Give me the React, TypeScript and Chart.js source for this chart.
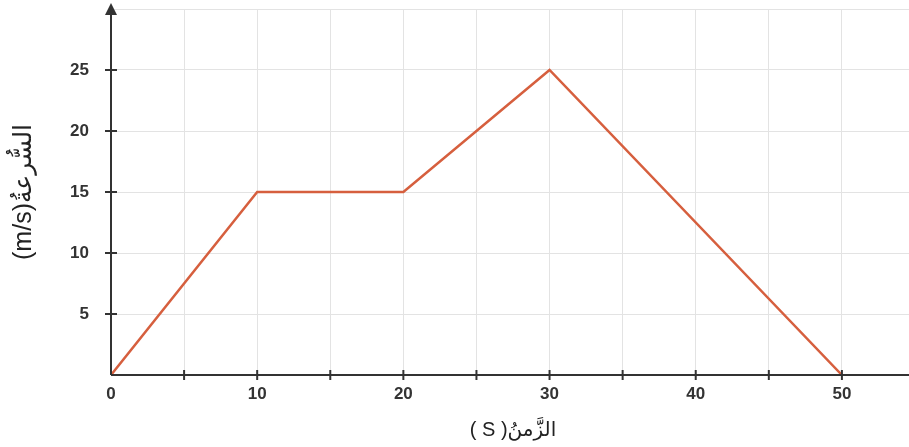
import React, { useEffect, useRef } from "react";
import { Chart, registerables } from "chart.js";

Chart.register(...registerables);

// ---- data ----
const times = [0, 10, 20, 30, 50];
const speeds = [0, 15, 15, 25, 0];
const xLabelValues = [0, 10, 20, 30, 40, 50];
const yLabelValues = [5, 10, 15, 20, 25];
const xTitle = "( S )الزَّمنُ";
const yTitle = "(m/s)السُّرعةُ";
const X_MIN = 0;
const X_MAX = 55;
const Y_MIN = 0;
const Y_MAX = 30;
const STEP = 5;

const AXIS_COLOR = "#333333";
const GRID_COLOR = "#e3e3e3";
const LINE_COLOR = "#d65f3e";
const TICK_FONT = { family: "'Liberation Sans', Arial, sans-serif", size: 17, weight: "bold" as const };

const axesPlugin = {
  id: "axesWithArrow",
  afterDatasetsDraw(chart: any) {
    const { ctx, chartArea, scales } = chart;
    const xs = scales.x;
    const ys = scales.y;
    const x0 = xs.getPixelForValue(0);
    const y0 = ys.getPixelForValue(0);
    ctx.save();
    ctx.strokeStyle = AXIS_COLOR;
    ctx.fillStyle = AXIS_COLOR;
    ctx.lineWidth = 2;
    // x axis
    ctx.beginPath();
    ctx.moveTo(x0, y0);
    ctx.lineTo(chartArea.right, y0);
    ctx.stroke();
    // y axis
    ctx.beginPath();
    ctx.moveTo(x0, y0);
    ctx.lineTo(x0, chartArea.top + 4);
    ctx.stroke();
    // arrow
    ctx.beginPath();
    ctx.moveTo(x0, chartArea.top - 6);
    ctx.lineTo(x0 - 6, chartArea.top + 6);
    ctx.lineTo(x0 + 6, chartArea.top + 6);
    ctx.closePath();
    ctx.fill();
    // tick marks crossing the axes
    for (let v = X_MIN + STEP; v <= X_MAX; v += STEP) {
      const px = xs.getPixelForValue(v);
      ctx.beginPath();
      ctx.moveTo(px, y0 - 5);
      ctx.lineTo(px, y0 + 5);
      ctx.stroke();
    }
    for (const v of yLabelValues) {
      const py = ys.getPixelForValue(v);
      ctx.beginPath();
      ctx.moveTo(x0 - 6, py);
      ctx.lineTo(x0 + 6, py);
      ctx.stroke();
    }
    ctx.restore();
  },
};

export default function App() {
  const canvasRef = useRef<HTMLCanvasElement | null>(null);

  useEffect(() => {
    document.body.style.margin = "0";
    document.body.style.overflow = "hidden";
    const canvas = canvasRef.current;
    if (!canvas) return;
    const chart = new Chart(canvas, {
      type: "line",
      data: {
        datasets: [
          {
            data: times.map((t, i) => ({ x: t, y: speeds[i] })),
            borderColor: LINE_COLOR,
            borderWidth: 2.5,
            pointRadius: 0,
            tension: 0,
            fill: false,
          },
        ],
      },
      options: {
        responsive: false,
        animation: false,
        layout: { padding: { top: 9, right: 0, left: 0, bottom: 0 } },
        plugins: {
          legend: { display: false },
          tooltip: { enabled: false },
        },
        scales: {
          x: {
            type: "linear",
            min: X_MIN,
            max: X_MAX,
            border: { display: false },
            grid: { color: GRID_COLOR, lineWidth: 1, drawTicks: false },
            ticks: {
              stepSize: STEP,
              autoSkip: false,
              maxRotation: 0,
              padding: 9,
              color: "#333333",
              font: TICK_FONT,
              callback: (v: any) => (xLabelValues.includes(Number(v)) ? String(v) : ""),
            },
            title: {
              display: true,
              text: xTitle,
              color: "#222222",
              font: { family: "'Liberation Sans', 'DejaVu Sans', sans-serif", size: 20 },
              padding: { top: 0, bottom: 5 },
            },
            afterFit: (s: any) => {
              s.height = 72;
              s.paddingLeft = 0;
              s.paddingRight = 0;
            },
          },
          y: {
            type: "linear",
            min: Y_MIN,
            max: Y_MAX,
            border: { display: false },
            grid: { color: GRID_COLOR, lineWidth: 1, drawTicks: false },
            ticks: {
              stepSize: STEP,
              autoSkip: false,
              padding: 22,
              color: "#333333",
              font: TICK_FONT,
              callback: (v: any) => (yLabelValues.includes(Number(v)) ? String(v) : ""),
            },
            title: {
              display: true,
              text: yTitle,
              color: "#222222",
              font: { family: "'Liberation Sans', 'DejaVu Sans', sans-serif", size: 25 },
              padding: { top: 9, bottom: 0 },
            },
            afterFit: (s: any) => {
              s.width = 111;
              s.paddingTop = 0;
              s.paddingBottom = 0;
            },
          },
        },
      },
      plugins: [axesPlugin],
    });
    return () => chart.destroy();
  }, []);

  return (
    <div style={{ width: 915, height: 447, overflow: "hidden" }}>
      <canvas ref={canvasRef} width={915} height={447} />
    </div>
  );
}
